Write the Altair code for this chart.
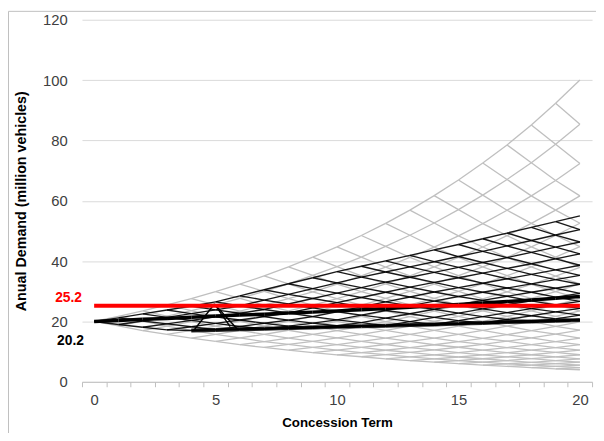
import altair as alt
import pandas as pd

# ---- data ----
years = list(range(21))

# grey (high volatility) lattice: values along its upper and lower edges
gray_up_edge = [20.0, 21.7, 23.5, 25.5, 27.6, 29.9, 32.4, 35.1, 38.1, 41.3, 44.7,
                48.5, 52.5, 56.9, 61.7, 66.9, 72.5, 78.5, 85.1, 92.3, 100.0]
gray_down_edge = [20.0, 18.5, 17.0, 15.7, 14.5, 13.4, 12.3, 11.4, 10.5, 9.7, 8.9,
                  8.3, 7.6, 7.0, 6.5, 6.0, 5.5, 5.1, 4.7, 4.3, 4.0]

# black lattice: upper / lower edges and the lower bound it is held above
black_up_edge = [20.0, 21.2, 22.5, 23.8, 25.1, 26.5, 28.5, 30.5, 32.5, 34.5, 36.5,
                 38.3, 40.1, 41.9, 43.7, 45.5, 47.4, 49.3, 51.2, 53.1, 55.0]
black_down_edge = [20.0, 19.0, 18.1, 17.2, 16.3, 15.5, 14.8, 14.0, 13.3, 12.7, 12.1,
                   11.5, 10.9, 10.4, 9.8, 9.4, 8.9, 8.5, 8.0, 7.6, 7.3]
black_floor = [20.0, 19.0, 18.1, 17.2, 17.0, 17.2, 17.4, 17.6, 17.8, 18.0, 18.2,
               18.4, 18.6, 18.8, 19.0, 19.3, 19.5, 19.8, 20.0, 20.2, 20.5]

# thick black path
mean_path = [20.0, 20.3, 20.7, 21.0, 21.4, 21.8, 22.1, 22.4, 22.8, 23.1, 23.5,
             23.9, 24.3, 24.7, 25.2, 25.6, 26.1, 26.6, 27.1, 27.7, 28.3]

# spike near year 5 (start t, start v, end t, end v)
spike_t0 = [4.1, 4.95, 4.95]
spike_v0 = [17.0, 25.8, 25.8]
spike_t1 = [4.95, 5.6, 5.9]
spike_v1 = [25.8, 18.3, 17.4]

red_level = 25.2
red_label = "25.2"
black_label_value = 20.2
black_label = "20.2"

x_labels = [0, 5, 10, 15, 20]
y_ticks = [0, 20, 40, 60, 80, 100, 120]
x_tick_positions = [t - 0.5 for t in years] + [years[-1] + 0.5]


# ---- build tables from the arrays ----
def gray_node(t, j):
    return gray_up_edge[j] * gray_down_edge[t - j] / gray_up_edge[0]


def black_node(t, j):
    v = black_up_edge[j] * black_down_edge[t - j] / black_up_edge[0]
    return max(v, black_floor[t])


def lattice_edges(node):
    rows = []
    for t in years[:-1]:
        for j in range(t + 1):
            v0 = node(t, j)
            rows.append(dict(t0=t, v0=v0, t1=t + 1, v1=node(t + 1, j + 1)))
            rows.append(dict(t0=t, v0=v0, t1=t + 1, v1=node(t + 1, j)))
    return pd.DataFrame(rows)


def path_edges(values, start=3):
    return pd.DataFrame(dict(t0=years[start:-1], v0=values[start:-1],
                             t1=years[start + 1:], v1=values[start + 1:]))


gray_df = lattice_edges(gray_node)
black_df = lattice_edges(black_node)
floor_df = path_edges(black_floor, start=4)
mean_df = path_edges(mean_path, start=0)
spike_df = pd.DataFrame(dict(t0=spike_t0, v0=spike_v0, t1=spike_t1, v1=spike_v1))
red_df = pd.DataFrame(dict(t0=[years[0]], v0=[red_level], t1=[years[-1]], v1=[red_level]))
red_text_df = pd.DataFrame(dict(t0=[-0.5], v0=[red_level], label=[red_label]))
black_text_df = pd.DataFrame(dict(t0=[-0.5], v0=[black_label_value], label=[black_label]))
frame_df = pd.DataFrame(dict(a=[0]))

FONT = "Liberation Sans"
half_step = 517 / 21 / 2

x_enc = alt.X(
    "t0:Q",
    scale=alt.Scale(domain=[-0.5, 20.5], nice=False, zero=False),
    axis=alt.Axis(
        values=x_tick_positions,
        labelExpr="((datum.value + 0.5) % 5 == 0 && datum.value < 20) ? format(datum.value + 0.5, 'd') : ''",
        labelOffset=half_step,
        labelFlush=False,
        labelOverlap=False,
        grid=False,
        tickSize=5,
        tickColor="#bfbfbf",
        domainColor="#bfbfbf",
        labelPadding=6,
        titlePadding=8,
        titleFontSize=13.5,
    ),
    title="Concession Term",
)
y_enc = alt.Y(
    "v0:Q",
    scale=alt.Scale(domain=[0, 120], nice=False),
    axis=alt.Axis(
        values=y_ticks,
        grid=True,
        gridColor="#d9d9d9",
        domain=False,
        ticks=False,
        labelPadding=15,
        titlePadding=14,
        titleFontSize=14.5,
    ),
    title="Anual Demand (million vehicles)",
)
x2_enc = alt.X2("t1:Q")
y2_enc = alt.Y2("v1:Q")

frame = alt.Chart(frame_df).mark_rect(
    filled=False, stroke="#bfbfbf", strokeWidth=1
).encode(
    x=alt.value(-74.5), x2=alt.value(540), y=alt.value(-8.5), y2=alt.value(460)
)

gray = alt.Chart(gray_df).mark_rule(color="#bfbfbf", strokeWidth=1.3).encode(
    x=x_enc, y=y_enc, x2=x2_enc, y2=y2_enc
)
black = alt.Chart(black_df).mark_rule(color="#000000", strokeWidth=1.4, opacity=0.9).encode(
    x=x_enc, y=y_enc, x2=x2_enc, y2=y2_enc
)
floor = alt.Chart(floor_df).mark_rule(color="#000000", strokeWidth=4, opacity=0.85).encode(
    x=x_enc, y=y_enc, x2=x2_enc, y2=y2_enc
)
spike = alt.Chart(spike_df).mark_rule(color="#000000", strokeWidth=1.4).encode(
    x=x_enc, y=y_enc, x2=x2_enc, y2=y2_enc
)
mean = alt.Chart(mean_df).mark_rule(color="#000000", strokeWidth=3.5).encode(
    x=x_enc, y=y_enc, x2=x2_enc, y2=y2_enc
)
red = alt.Chart(red_df).mark_rule(color="#ff0000", strokeWidth=4).encode(
    x=x_enc, y=y_enc, x2=x2_enc, y2=y2_enc
)
red_text = alt.Chart(red_text_df).mark_text(
    color="#ff0000", fontWeight="bold", fontSize=14, font=FONT,
    align="right", baseline="middle", dx=0, dy=-8
).encode(x=x_enc, y=y_enc, text="label:N")
black_text = alt.Chart(black_text_df).mark_text(
    color="#000000", fontWeight="bold", fontSize=14, font=FONT,
    align="right", baseline="middle", dx=2, dy=20
).encode(x=x_enc, y=y_enc, text="label:N")

chart = alt.layer(
    frame, gray, black, floor, spike, mean, red, red_text, black_text
).properties(
    width=517,
    height=367,
    autosize=alt.AutoSizeParams(type="none"),
    padding={"left": 75, "top": 9, "right": 4, "bottom": 49},
    background="white",
).configure_view(
    stroke=None
).configure_axis(
    labelFont=FONT,
    titleFont=FONT,
    labelFontSize=15,
    labelColor="#404040",
    titleColor="#000000",
    titleFontWeight="bold",
)

chart.save("out.html", embed_options={"renderer": "svg", "actions": False})
